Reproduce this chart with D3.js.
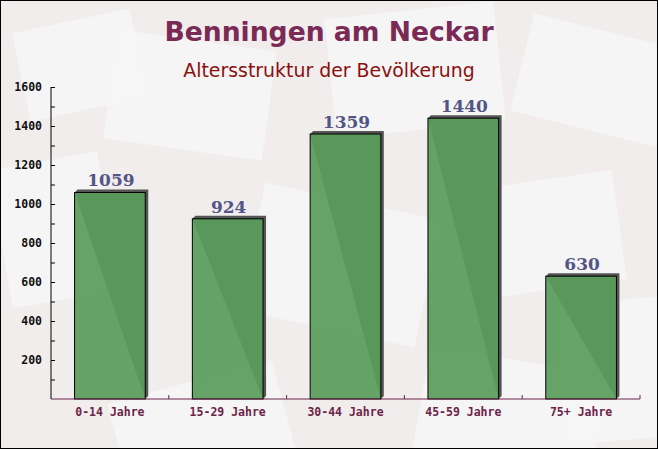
<!DOCTYPE html>
<html><head><meta charset="utf-8">
<script src="https://cdn.jsdelivr.net/npm/d3@7"></script>
<style>html,body{margin:0;padding:0;background:#fff}svg{display:block}</style>
</head><body>
<script>
const categories = ["0-14 Jahre","15-29 Jahre","30-44 Jahre","45-59 Jahre","75+ Jahre"];
const values = [1059, 924, 1359, 1440, 630];
const yTicks = [200,400,600,800,1000,1200,1400,1600];
const titleText = "Benningen am Neckar";
const subtitleText = "Altersstruktur der Bevölkerung";

const W = 658, H = 449;
const svg = d3.select("body").append("svg").attr("width", W).attr("height", H);

// background
svg.append("rect").attr("width", W).attr("height", H).attr("fill", "#f1eded");
const deco = [[20,20,120,90,-12],[110,40,160,110,8],[330,10,170,120,-6],[520,30,150,100,14],
  [0,160,110,140,-10],[250,200,180,130,12],[470,180,150,110,-8],[120,380,170,120,-15],[420,360,180,110,10],[560,300,120,140,-5]];
svg.append("g").selectAll("rect").data(deco).join("rect")
  .attr("x", d=>d[0]).attr("y", d=>d[1]).attr("width", d=>d[2]).attr("height", d=>d[3])
  .attr("transform", d=>`rotate(${d[4]},${d[0]+d[2]/2},${d[1]+d[3]/2})`)
  .attr("fill", "#f8f6f6").attr("opacity", 0.8);

const x0 = 51, x1 = 640, yTop = 87, yBot = 399;
const x = d3.scaleBand().domain(categories).range([x0, x1]).paddingInner(0.4).paddingOuter(0.2);
const y = d3.scaleLinear().domain([0, 1600]).range([yBot, yTop]);

// titles
svg.append("text").attr("x", 329).attr("y", 41).attr("text-anchor", "middle")
  .attr("font-family", "DejaVu Sans, Verdana, sans-serif").attr("font-weight", "bold")
  .attr("font-size", 26.6).attr("fill", "#7a2a55").text(titleText);
svg.append("text").attr("x", 329).attr("y", 77).attr("text-anchor", "middle")
  .attr("font-family", "DejaVu Sans, Verdana, sans-serif")
  .attr("font-size", 18.9).attr("fill", "#8b1010").text(subtitleText);

// bars with shadow
const dx = 3, dy = 3;
const g = svg.append("g");
categories.forEach((c, i) => {
  const bx = x(c), bw = x.bandwidth(), by = y(values[i]);
  g.append("polygon")
    .attr("points", [[bx, by],[bx+dx, by-dy],[bx+bw+dx, by-dy],[bx+bw+dx, yBot-dy],[bx+bw, yBot]].map(p=>p.join(",")).join(" "))
    .attr("fill", "#555");
  g.append("rect").attr("x", bx).attr("y", by).attr("width", bw).attr("height", yBot - by)
    .attr("fill", "#5a9c5a").attr("fill-opacity", 0.93).attr("stroke", "#000").attr("stroke-width", 1);
  g.append("text").attr("x", bx + bw/2 + 1).attr("y", by - 6).attr("text-anchor", "middle")
    .attr("font-family", "DejaVu Serif, Georgia, serif").attr("font-weight", "bold")
    .attr("font-size", 17).attr("fill", "#525686").text(values[i]);
});

// y axis
const yAxis = d3.axisRight(y).tickValues(d3.range(100, 1601, 100)).tickSize(4).tickFormat("");
const ya = svg.append("g").attr("transform", `translate(${x0},0)`).call(yAxis);
ya.select(".domain").attr("d", `M0,${yTop}V${yBot}`).attr("stroke", "#000");
ya.selectAll(".tick line").attr("stroke", "#000");
svg.append("g").selectAll("text").data(yTicks).join("text")
  .attr("x", 42).attr("y", d => y(d) + 4).attr("text-anchor", "end")
  .attr("font-family", "DejaVu Sans Mono, monospace").attr("font-weight", "bold")
  .attr("font-size", 11.5).attr("fill", "#111").text(d => d);

// x axis
const xa = svg.append("g").attr("transform", `translate(0,${yBot})`);
xa.append("line").attr("x1", x0).attr("x2", x1).attr("y1", 0).attr("y2", 0).attr("stroke", "#6b2448");
const step = (x1 - x0) / categories.length;
d3.range(1, categories.length + 1).forEach(k => {
  xa.append("line").attr("x1", x0 + k*step).attr("x2", x0 + k*step).attr("y1", 0).attr("y2", -4).attr("stroke", "#6b2448");
});
xa.selectAll("text.lab").data(categories).join("text").attr("class","lab")
  .attr("x", d => x(d) + x.bandwidth()/2).attr("y", 17).attr("text-anchor", "middle")
  .attr("font-family", "DejaVu Sans Mono, monospace").attr("font-weight", "bold")
  .attr("font-size", 11.5).attr("fill", "#6b2448").text(d => d);

// border
svg.append("rect").attr("x", 0.5).attr("y", 0.5).attr("width", W-1).attr("height", H-1)
  .attr("fill", "none").attr("stroke", "#000").attr("stroke-width", 1);
</script>
</body></html>
